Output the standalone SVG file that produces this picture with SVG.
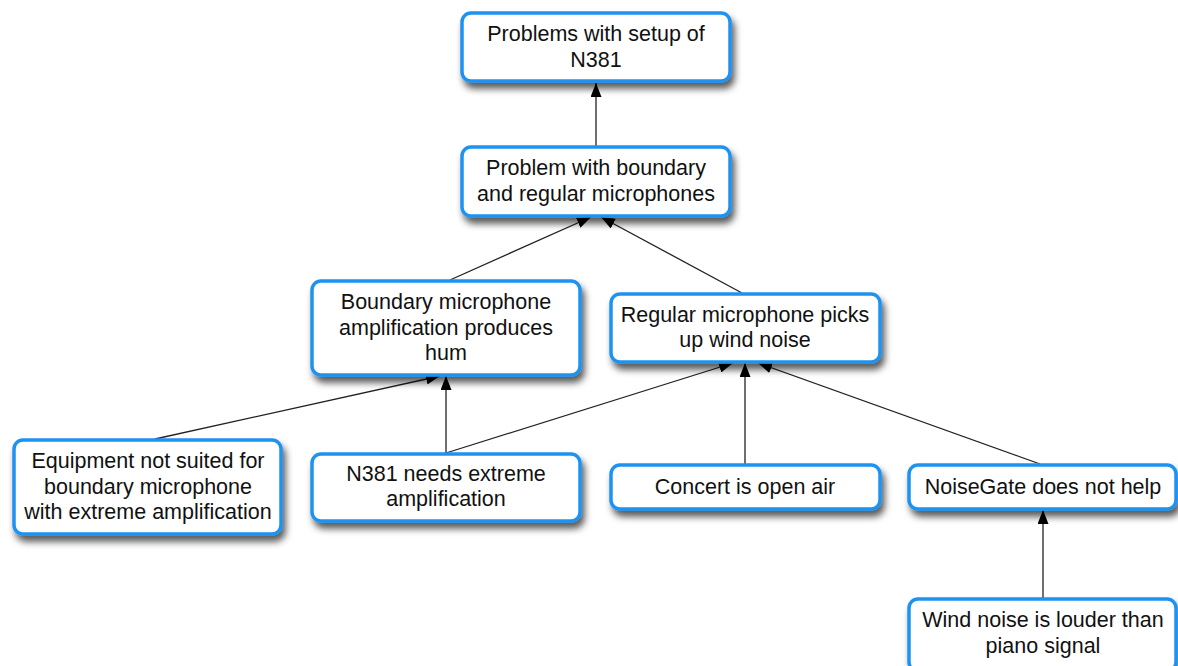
<svg xmlns="http://www.w3.org/2000/svg" width="1178" height="666" viewBox="0 0 1178 666">
<style>
.box{fill:#fff;stroke:#1f93f0;stroke-width:3.5;filter:url(#sh)}
.t{font-family:"Liberation Sans",Arial,sans-serif;font-size:21.5px;fill:#111;text-anchor:middle}
.c{stroke:#222;stroke-width:1.3;fill:none;marker-end:url(#ah)}
</style>
<defs>
<filter id="sh" x="-10%" y="-20%" width="125%" height="160%">
<feDropShadow dx="3" dy="6" stdDeviation="3.5" flood-color="#000" flood-opacity="0.65"/>
</filter>
<marker id="ah" viewBox="0 0 14 11" refX="14" refY="5.5" markerWidth="14" markerHeight="11" markerUnits="userSpaceOnUse" orient="auto">
<path d="M0,0 L14,5.5 L0,11 z" fill="#000"/>
</marker>
</defs>
<rect width="1178" height="666" fill="#fff"/>
<g id="connectors">
<line class="c" x1="596" y1="146" x2="596" y2="83"/>
<line class="c" x1="450" y1="280" x2="591" y2="217"/>
<line class="c" x1="742" y1="293" x2="601" y2="217"/>
<line class="c" x1="155" y1="439" x2="440" y2="376"/>
<line class="c" x1="446" y1="453" x2="446" y2="376"/>
<line class="c" x1="446" y1="453" x2="733" y2="363"/>
<line class="c" x1="745" y1="464" x2="745" y2="363"/>
<line class="c" x1="1040" y1="464" x2="758" y2="363"/>
<line class="c" x1="1043" y1="598" x2="1043" y2="510"/>
</g>
<g id="n1"><rect class="box" x="462" y="13" width="268" height="68" rx="9"/>
<text class="t" x="596" y="41">Problems with setup of</text><text class="t" x="596" y="67">N381</text></g>
<g id="n2"><rect class="box" x="462" y="147" width="268" height="69" rx="9"/>
<text class="t" x="596" y="175">Problem with boundary</text><text class="t" x="596" y="201">and regular microphones</text></g>
<g id="n3"><rect class="box" x="312" y="281" width="268" height="94" rx="9"/>
<text class="t" x="446" y="309">Boundary microphone</text><text class="t" x="446" y="335">amplification produces</text><text class="t" x="446" y="360">hum</text></g>
<g id="n4"><rect class="box" x="611" y="294" width="269" height="68" rx="9"/>
<text class="t" x="745" y="322">Regular microphone picks</text><text class="t" x="745" y="347">up wind noise</text></g>
<g id="n5"><rect class="box" x="14" y="440" width="267" height="94" rx="9"/>
<text class="t" x="148" y="468">Equipment not suited for</text><text class="t" x="148" y="494">boundary microphone</text><text class="t" x="148" y="519">with extreme amplification</text></g>
<g id="n6"><rect class="box" x="312" y="454" width="268" height="67" rx="9"/>
<text class="t" x="446" y="481">N381 needs extreme</text><text class="t" x="446" y="506">amplification</text></g>
<g id="n7"><rect class="box" x="611" y="465" width="269" height="44" rx="9"/>
<text class="t" x="745" y="494">Concert is open air</text></g>
<g id="n8"><rect class="box" x="909" y="465" width="267" height="44" rx="9"/>
<text class="t" x="1043" y="494">NoiseGate does not help</text></g>
<g id="n9"><rect class="box" x="909" y="599" width="267" height="72" rx="9"/>
<text class="t" x="1043" y="627">Wind noise is louder than</text><text class="t" x="1043" y="653">piano signal</text></g>
</svg>
